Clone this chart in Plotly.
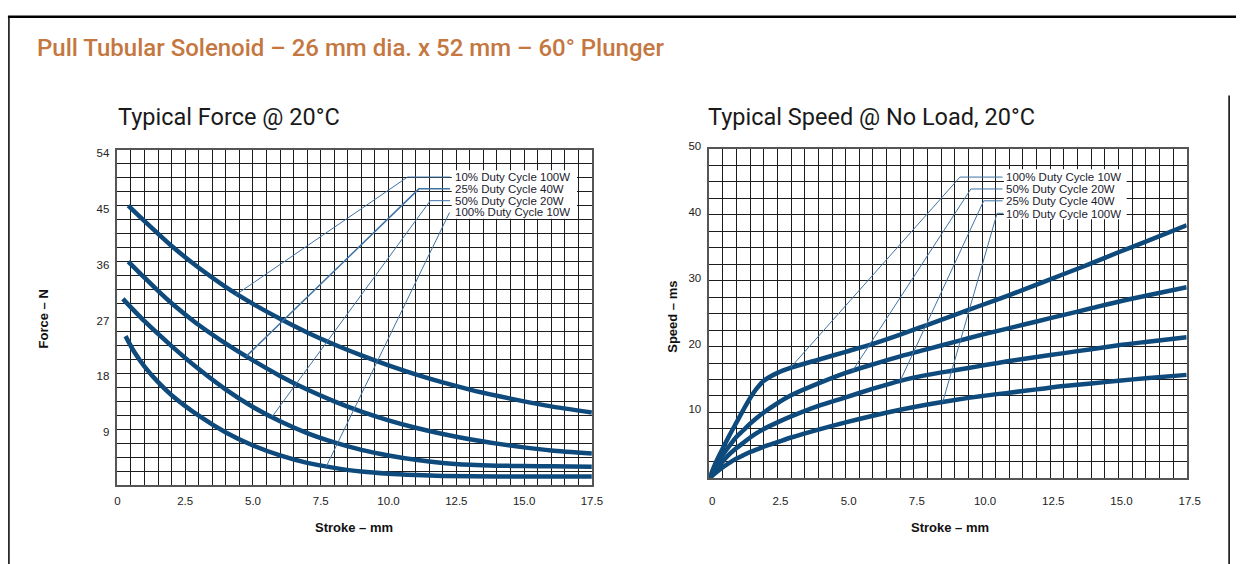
import plotly.graph_objects as go

W, H = 1250, 564

# ---------------- Force chart data (Stroke mm -> Force N) ----------------
f_x_10 = [0.4, 1, 2, 3, 4, 5, 6, 7, 8, 9, 10, 11, 12, 13, 14, 15, 16, 17.5]
f_y_10 = [45, 42.5, 38.5, 35.0, 31.9, 29.2, 26.8, 24.6, 22.65, 20.9, 19.3, 17.85, 16.55, 15.4, 14.4, 13.5, 12.7, 11.7]
f_x_25 = [0.4, 1, 1.5, 2, 2.5, 3, 4, 5, 6, 7, 8, 9, 10, 11, 12, 13, 14, 15, 16, 17.5]
f_y_25 = [36, 33.4, 31.3, 29.3, 27.5, 25.8, 22.8, 20.1, 17.6, 15.4, 13.5, 11.85, 10.45, 9.25, 8.25, 7.4, 6.7, 6.1, 5.6, 5.1]
f_x_50 = [0.2, 1, 2, 3, 4, 5, 6, 7, 8, 9, 10, 11, 12, 13, 14, 15, 16, 17.5]
f_y_50 = [30, 26.4, 22.4, 18.7, 15.4, 12.6, 10.3, 8.4, 6.9, 5.7, 4.8, 4.1, 3.6, 3.3, 3.15, 3.1, 3.05, 3.0]
f_x_100 = [0.3, 0.6, 1, 1.5, 2, 3, 4, 5, 6, 7, 8, 9, 10, 11, 12, 14, 16, 17.5]
f_y_100 = [24, 21.6, 19.1, 16.6, 14.5, 11.2, 8.5, 6.4, 4.8, 3.6, 2.8, 2.2, 1.85, 1.65, 1.5, 1.4, 1.4, 1.4]

# leader lines (force chart)
fl_x = {"10": [4.35, 10.7, 12.27], "25": [4.75, 11.12, 12.27], "50": [5.7, 11.54, 12.27], "100": [7.7, 12.25]}
fl_y = {"10": [30.6, 49.6, 49.6], "25": [20.75, 47.7, 47.7], "50": [11.0, 45.8, 45.8], "100": [3.0, 43.9]}
f_labels = ["10% Duty Cycle 100W", "25% Duty Cycle 40W", "50% Duty Cycle 20W", "100% Duty Cycle 10W"]
f_label_y = [49.6, 47.7, 45.8, 43.9]
f_label_x = 12.4
f_box_x = [12.33, 16.95]
f_box_y = [42.9, 50.7]

# ---------------- Speed chart data (Stroke mm -> Speed ms) ----------------
s_x = [0, 0.25, 0.5, 0.75, 1, 1.25, 1.5, 1.75, 2, 2.5, 3, 4, 5, 6, 7, 8, 9, 10, 11, 12, 13, 14, 15, 16, 17.5]
s_y_100 = [0, 2.5, 4.6, 6.6, 8.5, 10.4, 12.2, 13.7, 14.8, 16.0, 16.8, 18.0, 19.2, 20.4, 21.8, 23.3, 24.8, 26.3, 27.8, 29.4, 31.0, 32.6, 34.3, 35.9, 38.4]
s_y_50 = [0, 2.0, 3.6, 5.0, 6.3, 7.3, 8.3, 9.2, 10.0, 11.4, 12.6, 14.4, 16.0, 17.3, 18.5, 19.6, 20.7, 21.8, 22.8, 23.8, 24.8, 25.8, 26.8, 27.7, 29.0]
s_y_25 = [0, 1.4, 2.6, 3.7, 4.6, 5.4, 6.2, 6.9, 7.5, 8.5, 9.4, 11.0, 12.3, 13.6, 14.8, 15.7, 16.4, 17.1, 17.8, 18.4, 19.0, 19.6, 20.2, 20.7, 21.4]
s_y_10 = [0, 0.9, 1.7, 2.4, 3.0, 3.5, 4.0, 4.4, 4.8, 5.5, 6.2, 7.4, 8.5, 9.5, 10.4, 11.2, 11.9, 12.5, 13.0, 13.5, 14.0, 14.4, 14.8, 15.2, 15.7]

sl_x = {"100": [2.98, 9.19, 10.75], "50": [5.25, 9.59, 10.75], "25": [7.0, 10.06, 10.75], "10": [8.56, 10.55, 10.78]}
sl_y = {"100": [16.8, 45.7, 45.7], "50": [16.3, 43.9, 43.9], "25": [14.8, 42.1, 42.1], "10": [11.6, 40.2, 40.2]}
s_labels = ["100% Duty Cycle 10W", "50% Duty Cycle 20W", "25% Duty Cycle 40W", "10% Duty Cycle 100W"]
s_label_y = [45.7, 43.9, 42.1, 40.1]
s_label_x = 10.85
s_box_x = [10.8, 15.3]
s_box_y = [39.3, 46.9]

x_tickvals = [0, 2.5, 5, 7.5, 10, 12.5, 15, 17.5]
x_ticktext = ["0", "2.5", "5.0", "7.5", "10.0", "12.5", "15.0", "17.5"]
f_tickvals = [9, 18, 27, 36, 45, 54]
s_tickvals = [10, 20, 30, 40, 50]

CURVE = "#0f4a7d"
LEADER = "#3f73a6"
GRID = "#1c1c1c"
TICKFONT = dict(family="Liberation Sans, Arial", size=11.5, color="#222")

fig = go.Figure()

for xs, ys in [(f_x_10, f_y_10), (f_x_25, f_y_25), (f_x_50, f_y_50), (f_x_100, f_y_100)]:
    fig.add_trace(go.Scatter(x=xs, y=ys, mode="lines", xaxis="x", yaxis="y",
                             line=dict(color=CURVE, width=4.5, shape="spline", smoothing=0.7),
                             hoverinfo="skip", showlegend=False))
for k in ["10", "25", "50", "100"]:
    fig.add_trace(go.Scatter(x=fl_x[k], y=fl_y[k], mode="lines", xaxis="x", yaxis="y",
                             line=dict(color=LEADER, width=1.5 if k == "25" else 1),
                             hoverinfo="skip", showlegend=False))

for ys in [s_y_100, s_y_50, s_y_25, s_y_10]:
    fig.add_trace(go.Scatter(x=s_x, y=ys, mode="lines", xaxis="x2", yaxis="y2",
                             line=dict(color=CURVE, width=4.5, shape="spline", smoothing=0.8),
                             hoverinfo="skip", showlegend=False))
for k in ["100", "50", "25", "10"]:
    fig.add_trace(go.Scatter(x=sl_x[k], y=sl_y[k], mode="lines", xaxis="x2", yaxis="y2",
                             line=dict(color=LEADER, width=1), hoverinfo="skip", showlegend=False))

def xaxis_cfg(domain, shift):
    return dict(domain=domain, range=[0, 17.5], tickmode="array", tickvals=x_tickvals,
                ticktext=x_ticktext, showgrid=True, gridcolor=GRID, gridwidth=1,
                minor=dict(tick0=0, dtick=0.5, showgrid=True, gridcolor=GRID, gridwidth=1),
                showline=True, mirror=True, linecolor="#555", linewidth=1.5,
                zeroline=False, ticks="", tickfont=TICKFONT, fixedrange=True,
                ticklabelshift=shift)

def yaxis_cfg(domain, rng, tickvals, minor_dt, anchor, shift):
    return dict(domain=domain, range=rng, tickmode="array", tickvals=tickvals,
                showgrid=True, gridcolor=GRID, gridwidth=1,
                minor=dict(tick0=0, dtick=minor_dt, showgrid=True, gridcolor=GRID, gridwidth=1),
                showline=True, mirror=True, linecolor="#555", linewidth=1.5,
                zeroline=False, ticks="", tickfont=TICKFONT, anchor=anchor,
                fixedrange=True, ticklabelshift=shift, ticklabelstandoff=4)

fig.update_layout(
    width=W, height=H, margin=dict(l=0, r=0, t=0, b=0),
    paper_bgcolor="white", plot_bgcolor="white", showlegend=False,
    xaxis=dict(**xaxis_cfg([116 / W, 597 / W], 0), anchor="y", ticklabelstandoff=4),
    yaxis=yaxis_cfg([1 - 484 / H, 1 - 143 / H], [0, 54], f_tickvals, 2.25, "x", 3),
    xaxis2=dict(**xaxis_cfg([716 / W, 1200 / W], 3), anchor="y2", ticklabelstandoff=11),
    yaxis2=yaxis_cfg([1 - 477 / H, 1 - 142 / H], [0, 50], s_tickvals, 2.5, "x2", -3),
)

ann = []
ann.append(dict(text="Pull Tubular Solenoid – 26 mm dia. x 52 mm – 60° Plunger",
                x=32 / W, y=1 - 40 / H, xref="paper", yref="paper", xanchor="left", yanchor="middle",
                showarrow=False, font=dict(family="Roboto", size=24, color="#c4773f", weight=500)))
ann.append(dict(text="Typical Force @ 20°C", x=115 / W, y=1 - 110 / H, xref="paper", yref="paper",
                xanchor="left", yanchor="middle", showarrow=False,
                font=dict(family="Roboto", size=23.5, color="#1a1a1a")))
ann.append(dict(text="Typical Speed @ No Load, 20°C", x=713 / W, y=1 - 110 / H, xref="paper", yref="paper",
                xanchor="left", yanchor="middle", showarrow=False,
                font=dict(family="Roboto", size=23.5, color="#1a1a1a")))
ax_font = dict(family="Liberation Sans, Arial", size=13, color="#111", weight="bold")
ann.append(dict(text="Force – N", x=42 / W, y=1 - 315 / H, xref="paper", yref="paper", textangle=-90,
                xanchor="center", yanchor="middle", showarrow=False, font=ax_font))
ann.append(dict(text="Speed – ms", x=678 / W, y=1 - 313 / H, xref="paper", yref="paper", textangle=-90,
                xanchor="center", yanchor="middle", showarrow=False, font=ax_font))
ann.append(dict(text="Stroke – mm", x=356 / W, y=1 - 527 / H, xref="paper", yref="paper",
                xanchor="center", yanchor="middle", showarrow=False, font=ax_font))
ann.append(dict(text="Stroke – mm", x=960 / W, y=1 - 527 / H, xref="paper", yref="paper",
                xanchor="center", yanchor="middle", showarrow=False, font=ax_font))

lab_font = dict(family="Liberation Sans, Arial", size=11.5, color="#1b1b2e")
for t, yv in zip(f_labels, f_label_y):
    ann.append(dict(text=t, x=f_label_x, y=yv, xref="x", yref="y", xanchor="left", yanchor="middle",
                    showarrow=False, height=12, borderpad=0, font=lab_font))
for t, yv in zip(s_labels, s_label_y):
    ann.append(dict(text=t, x=s_label_x, y=yv, xref="x2", yref="y2", xanchor="left", yanchor="middle",
                    showarrow=False, height=12, borderpad=0, font=lab_font))
fig.update_layout(annotations=ann)

shapes = [
    # white panels behind the duty-cycle labels
    dict(type="rect", xref="x", yref="y", x0=f_box_x[0], x1=f_box_x[1], y0=f_box_y[0], y1=f_box_y[1],
         fillcolor="white", line=dict(width=0), layer="above"),
    dict(type="rect", xref="x2", yref="y2", x0=s_box_x[0], x1=s_box_x[1], y0=s_box_y[0], y1=s_box_y[1],
         fillcolor="white", line=dict(width=0), layer="above"),
    # page frame
    dict(type="line", xref="paper", yref="paper", x0=5 / W, x1=1, y0=1 - 8 / H, y1=1 - 8 / H,
         line=dict(color="#000", width=2.5)),
    dict(type="line", xref="paper", yref="paper", x0=6 / W, x1=6 / W, y0=1 - 8 / H, y1=0,
         line=dict(color="#000", width=1.5)),
    dict(type="line", xref="paper", yref="paper", x0=1243 / W, x1=1243 / W, y0=1 - 88 / H, y1=0,
         line=dict(color="#000", width=1.5)),
]
fig.update_layout(shapes=shapes)

fig.write_html("out.html", config={"displayModeBar": False},
               post_script="document.body.style.margin='0';")
